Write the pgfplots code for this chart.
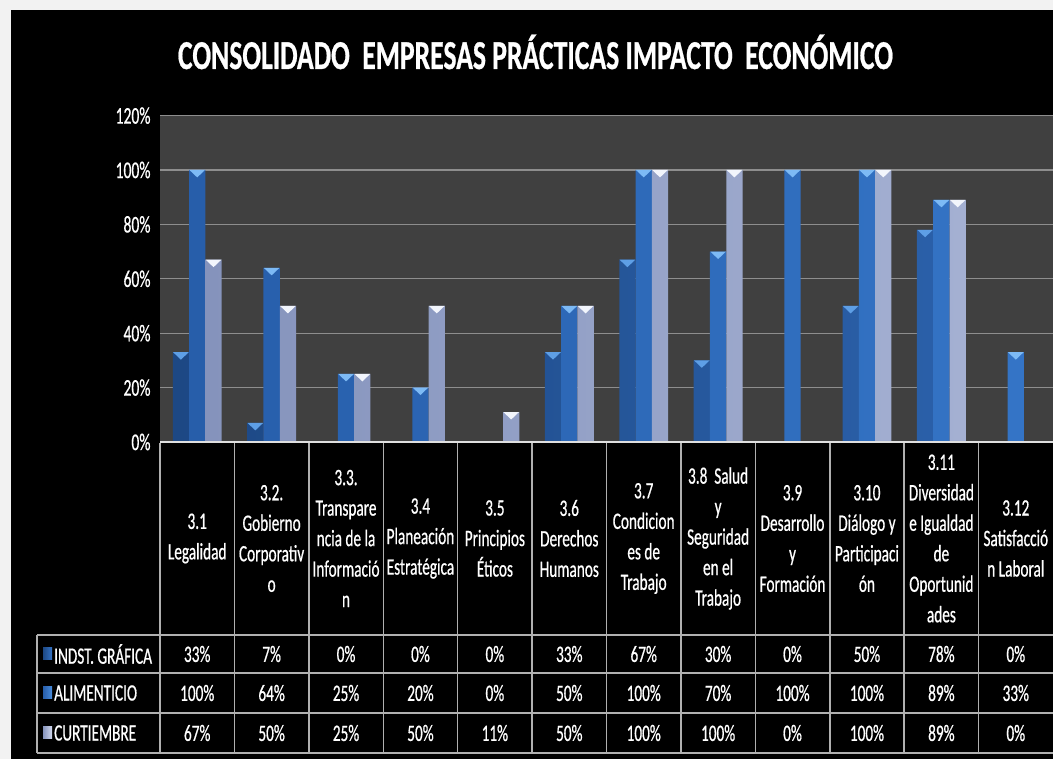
\documentclass[border=0pt]{standalone}
\usepackage{fontspec}
\setmainfont{Carlito}[FakeStretch=0.65, FakeBold=0.6]
\newfontfamily\titlefont{Carlito}[FakeBold=0.8]
\usepackage{graphicx}
\usepackage{pgfplots}
\usepackage{pgfplotstable}
\usetikzlibrary{shapes.geometric}
\pgfplotsset{compat=1.18}
\definecolor{bordergray}{HTML}{F2F2F2}
\definecolor{plotgray}{HTML}{404040}
\definecolor{gridgray}{HTML}{8E8E8E}
\definecolor{linegray}{HTML}{B0B0B0}
\definecolor{indL}{HTML}{1D4884}
\definecolor{indM}{HTML}{3573C4}
\definecolor{indR}{HTML}{2A5FA8}
\definecolor{aliL}{HTML}{275EAA}
\definecolor{aliM}{HTML}{4A8CDC}
\definecolor{aliR}{HTML}{3474C6}
\definecolor{curL}{HTML}{8593BC}
\definecolor{curM}{HTML}{D2D9EE}
\definecolor{curR}{HTML}{A4B0D2}
\definecolor{indT}{HTML}{5E9FE6}
\definecolor{aliT}{HTML}{7DBAF5}
\definecolor{curT}{HTML}{F2F5FC}

\pgfplotstableread{
x ind ali cur
0 33 100 67
1 7 64 50
2 0 25 25
3 0 20 50
4 0 0 11
5 33 50 50
6 67 100 100
7 30 70 100
8 0 100 0
9 50 100 100
10 78 89 89
11 0 33 0
}\datatable

\begin{document}
\begin{tikzpicture}[x=1bp,y=1bp]
% background
\fill[bordergray] (0,0) rectangle (1053,759);
\fill[black] (11,0) rectangle (1053,749);
% title
\node[anchor=base, text=white, inner sep=0pt] at (535.5,690)
  {\resizebox{715bp}{\height}{\titlefont\fontsize{41bp}{41bp}\selectfont\bfseries CONSOLIDADO\ \ EMPRESAS PRÁCTICAS IMPACTO\ \ ECONÓMICO}};
\begin{axis}[
  at={(160bp,317bp)}, anchor=south west,
  scale only axis, width=893bp, height=326.4bp,
  xmin=-0.5, xmax=11.5, ymin=0, ymax=120,
  ybar=0pt, bar width=16.3bp,
  axis background/.style={fill=plotgray},
  axis line style={draw=none},
  xtick=\empty,
  ytick={0,20,40,60,80,100,120},
  yticklabels={0\%,20\%,40\%,60\%,80\%,100\%,120\%},
  major tick length=0pt,
  ymajorgrids, grid style={gridgray, line width=1.2bp},
  yticklabel style={font=\fontsize{24bp}{26bp}\selectfont, text=white, xshift=-6bp},
  clip=false,
  y filter/.expression={y==0 ? nan : y},
  nodes near coords={},
  every node near coord/.append style={anchor=north, inner sep=0pt, outer sep=0pt,
     regular polygon, regular polygon sides=3, shape border rotate=180,
     minimum size=18bp, yscale=0.55, draw=none},
]
\addplot[draw=none, left color=indL, middle color=indM, right color=indR,
  every node near coord/.append style={fill=indT}] table[x=x,y=ind]{\datatable};
\addplot[draw=none, left color=aliL, middle color=aliM, right color=aliR,
  every node near coord/.append style={fill=aliT}] table[x=x,y=ali]{\datatable};
\addplot[draw=none, left color=curL, middle color=curM, right color=curR,
  every node near coord/.append style={fill=curT}] table[x=x,y=cur]{\datatable};
\end{axis}
% table grid (image y -> 759 - y)
\begin{scope}[draw=linegray, line width=1.5bp]
\draw[draw=gray!25] (160,317) -- (1053,317);
\foreach \i in {0,...,11} {
  \pgfmathsetmacro\xx{160+74.4167*\i}
  \draw (\xx,316) -- (\xx,6);
}
\draw (37,124) -- (1053,124);
\draw (37,86) -- (1053,86);
\draw (37,46) -- (1053,46);
\draw (37,6) -- (1053,6);
\draw (37,124) -- (37,6);
\end{scope}
% header labels
\foreach \c/\txt in {
  0/{3.1\\Legalidad},
  1/{3.2.\\Gobierno\\Corporativ\\o},
  2/{3.3.\\Transpare\\ncia de la\\Informació\\n},
  3/{3.4\\Planeación\\Estratégica},
  4/{3.5\\Principios\\Éticos},
  5/{3.6\\Derechos\\Humanos},
  6/{3.7\\Condicion\\es de\\Trabajo},
  7/{3.8\ \ Salud\\y\\Seguridad\\en el\\Trabajo},
  8/{3.9\\Desarrollo\\y\\Formación},
  9/{3.10\\Diálogo y\\Participaci\\ón},
  10/{3.11\\Diversidad\\e Igualdad\\de\\Oportunid\\ades},
  11/{3.12\\Satisfacció\\n Laboral}} {
  \pgfmathsetmacro\xc{160+74.4167*(\c+0.5)}
  \node[text=white, align=center, inner sep=0pt,
        font=\fontsize{23.5bp}{30.5bp}\selectfont] at (\xc,220.5) {\txt};
}
% data rows
\foreach \col/\yy in {ind/105, ali/66, cur/26} {
  \foreach \c in {0,...,11} {
    \pgfmathsetmacro\xc{160+74.4167*(\c+0.5)}
    \pgfplotstablegetelem{\c}{\col}\of\datatable
    \node[text=white, inner sep=0pt, font=\fontsize{23.5bp}{26bp}\selectfont] at (\xc,\yy) {\pgfplotsretval\%};
  }
}
% legend keys and names
\shade[left color=indL, right color=indM] (43,99) rectangle (52,111);
\shade[left color=aliL, right color=aliM] (43,60) rectangle (52,72);
\shade[left color=curL, right color=curM] (43,20) rectangle (52,32);
\node[anchor=west, text=white, inner sep=0pt, font=\fontsize{23.5bp}{26bp}\selectfont] at (54,105) {INDST. GRÁFICA};
\node[anchor=west, text=white, inner sep=0pt, font=\fontsize{23.5bp}{26bp}\selectfont] at (54,66) {ALIMENTICIO};
\node[anchor=west, text=white, inner sep=0pt, font=\fontsize{23.5bp}{26bp}\selectfont] at (54,26) {CURTIEMBRE};
\pgfresetboundingbox
\useasboundingbox (0,0) rectangle (1053,759);
\end{tikzpicture}
\end{document}
